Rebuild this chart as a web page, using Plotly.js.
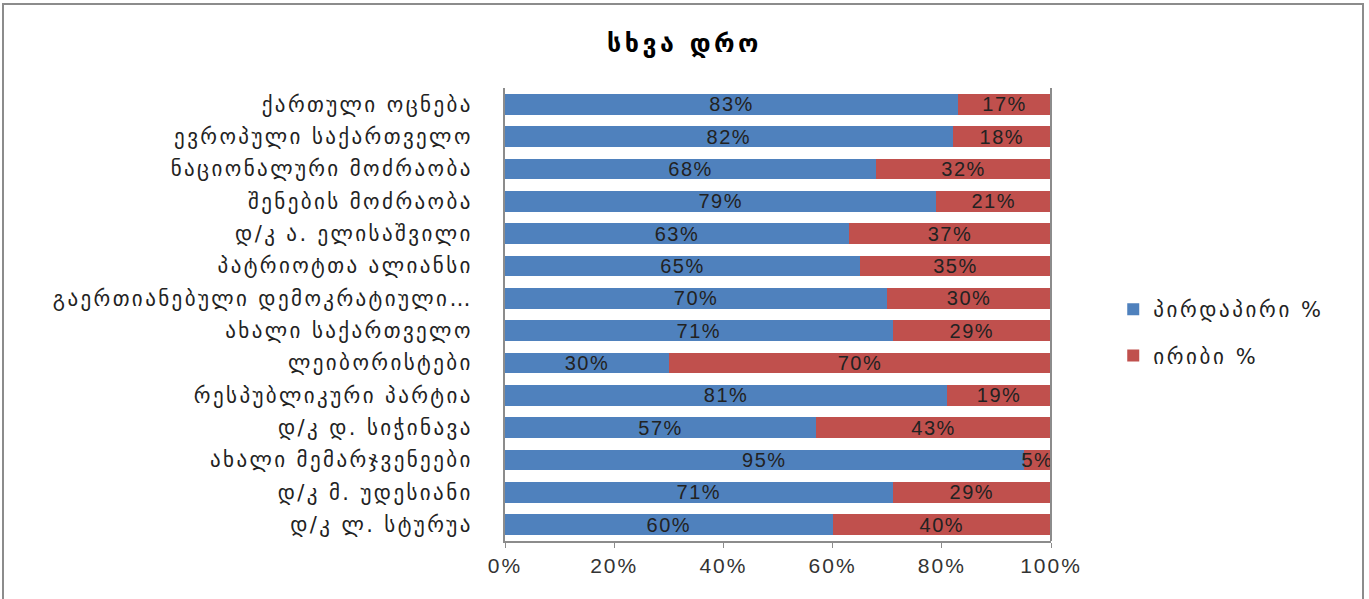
<!DOCTYPE html>
<html>
<head>
<meta charset="utf-8">
<script src="https://cdn.plot.ly/plotly-3.0.1.min.js"></script>
<style>
  body { margin: 0; background: #fff; }
  #wrap { position: relative; width: 1369px; height: 599px; overflow: hidden; }
  #chart { width: 1369px; height: 599px; }
  #frame { position: absolute; left: 2px; top: 3px; width: 1362px; height: 605px;
           border: 2px solid #8c8c8c; pointer-events: none; box-sizing: border-box; }
  g.ytick text { letter-spacing: 2.4px; }
  text.legendtext { letter-spacing: 2.6px; }
  text.gtitle { letter-spacing: 3.5px; }
  g.xtick text { letter-spacing: 2px; }
  text.bartext { letter-spacing: 1.5px; }
</style>
</head>
<body>
<div id="wrap">
  <div id="chart"></div>
  <div id="frame"></div>
</div>
<script>
const categories = [
  "ქართული ოცნება",
  "ევროპული საქართველო",
  "ნაციონალური მოძრაობა",
  "შენების მოძრაობა",
  "დ/კ ა. ელისაშვილი",
  "პატრიოტთა ალიანსი",
  "გაერთიანებული დემოკრატიული…",
  "ახალი საქართველო",
  "ლეიბორისტები",
  "რესპუბლიკური პარტია",
  "დ/კ დ. სიჭინავა",
  "ახალი მემარჯვენეები",
  "დ/კ მ. უდესიანი",
  "დ/კ ლ. სტურუა"
];
const directPct = [83, 82, 68, 79, 63, 65, 70, 71, 30, 81, 57, 95, 71, 60];
const indirectPct = [17, 18, 32, 21, 37, 35, 30, 29, 70, 19, 43, 5, 29, 40];
const seriesNames = ["პირდაპირი %", "ირიბი %"];
const xTickVals = [0, 20, 40, 60, 80, 100];
const xTickText = ["0%", "20%", "40%", "60%", "80%", "100%"];

const FONT = "Liberation Sans, DejaVu Sans, sans-serif";
const GEO = "DejaVu Sans, sans-serif";

const traces = [
  {
    type: "bar", orientation: "h", name: seriesNames[0],
    y: categories, x: directPct,
    text: directPct.map(v => v + "%"),
    textposition: "inside", insidetextanchor: "middle", constraintext: "none",
    textfont: { family: FONT, size: 20, color: "#222" },
    marker: { color: "#4F81BD" },
    legendgroup: "a", hoverinfo: "x+y"
  },
  {
    type: "bar", orientation: "h", name: seriesNames[1],
    y: categories, x: indirectPct,
    text: indirectPct.map(v => v + "%"),
    textposition: "inside", insidetextanchor: "middle", constraintext: "none",
    textfont: { family: FONT, size: 20, color: "#222" },
    marker: { color: "#C0504D" },
    legendgroup: "b", hoverinfo: "x+y"
  }
];

const layout = {
  width: 1369, height: 599,
  paper_bgcolor: "#fff", plot_bgcolor: "#fff",
  margin: { l: 505, r: 318, t: 88, b: 58 },
  barmode: "stack", bargap: 0.36,
  showlegend: true,
  title: {
    text: "<b>სხვა დრო</b>",
    font: { family: GEO, size: 25, color: "#000" },
    x: 0.5, xref: "container", y: 0.928, yanchor: "middle"
  },
  xaxis: {
    range: [0, 100], tickvals: xTickVals, ticktext: xTickText,
    showgrid: false, zeroline: false,
    showline: true, linecolor: "#8c8c8c", linewidth: 2,
    ticks: "outside", ticklen: 5, tickcolor: "#8c8c8c",
    tickfont: { family: FONT, size: 21, color: "#333" }
  },
  yaxis: {
    type: "category", autorange: "reversed",
    showgrid: false, zeroline: false,
    showline: true, linecolor: "#8c8c8c", linewidth: 2,
    ticks: "", ticklabelstandoff: 26,
    tickfont: { family: GEO, size: 21, color: "#222" }
  },
  shapes: [
    { type: "line", xref: "paper", yref: "paper", x0: 1, x1: 1, y0: 0, y1: 1,
      line: { color: "#8c8c8c", width: 2 } }
  ],
  legend: {
    x: 1.114, xanchor: "left", y: 0.46, yanchor: "middle",
    traceorder: "grouped", tracegroupgap: 16,
    font: { family: GEO, size: 21, color: "#222" },
    bgcolor: "rgba(0,0,0,0)"
  }
};

Plotly.newPlot("chart", traces, layout, { displayModeBar: false, staticPlot: true });
</script>
</body>
</html>
